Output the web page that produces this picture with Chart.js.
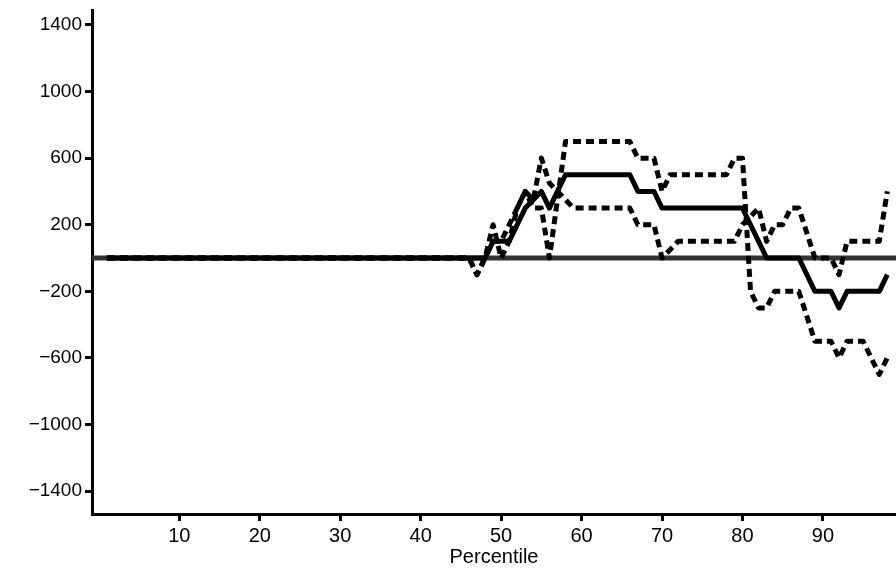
<!DOCTYPE html>
<html>
<head>
<meta charset="utf-8">
<script src="https://cdn.jsdelivr.net/npm/chart.js@4.4.1/dist/chart.umd.min.js"></script>
<style>
  html, body { margin: 0; padding: 0; background: #fff; }
  #wrap { width: 896px; height: 573px; }
</style>
</head>
<body>
<div id="wrap"><canvas id="chart" width="896" height="573"></canvas></div>
<script>
// percentile positions (x) and the three estimates
const percentiles = [
  1, 2, 3, 4, 5, 6, 7, 8, 9, 10, 11, 12, 13, 14, 15, 16, 17, 18, 19, 20,
  21, 22, 23, 24, 25, 26, 27, 28, 29, 30, 31, 32, 33, 34, 35, 36, 37, 38, 39, 40,
  41, 42, 43, 44, 45, 46, 47, 48, 49, 50, 51, 52, 53, 54, 55, 56, 57, 58, 59, 60,
  61, 62, 63, 64, 65, 66, 67, 68, 69, 70, 71, 72, 73, 74, 75, 76, 77, 78, 79, 80,
  81, 82, 83, 84, 85, 86, 87, 88, 89, 90, 91, 92, 93, 94, 95, 96, 97, 98
];

const median = [
  0, 0, 0, 0, 0, 0, 0, 0, 0, 0, 0, 0, 0, 0, 0, 0, 0, 0, 0, 0,
  0, 0, 0, 0, 0, 0, 0, 0, 0, 0, 0, 0, 0, 0, 0, 0, 0, 0, 0, 0,
  0, 0, 0, 0, 0, 0, 0, 0, 100, 100, 100, 200, 300, 350, 400, 300, 400, 500, 500, 500,
  500, 500, 500, 500, 500, 500, 400, 400, 400, 300, 300, 300, 300, 300, 300, 300, 300, 300, 300, 300,
  200, 100, 0, 0, 0, 0, 0, -100, -200, -200, -200, -300, -200, -200, -200, -200, -200, -100
];

const bandA = [
  0, 0, 0, 0, 0, 0, 0, 0, 0, 0, 0, 0, 0, 0, 0, 0, 0, 0, 0, 0,
  0, 0, 0, 0, 0, 0, 0, 0, 0, 0, 0, 0, 0, 0, 0, 0, 0, 0, 0, 0,
  0, 0, 0, 0, 0, 0, -100, 0, 200, 0, 100, 300, 400, 300, 300, 0, 350, 700, 700, 700,
  700, 700, 700, 700, 700, 700, 600, 600, 600, 400, 500, 500, 500, 500, 500, 500, 500, 500, 600, 600,
  -200, -300, -300, -200, -200, -200, -200, -350, -500, -500, -500, -600, -500, -500, -500, -600, -700, -600
];

const bandB = [
  0, 0, 0, 0, 0, 0, 0, 0, 0, 0, 0, 0, 0, 0, 0, 0, 0, 0, 0, 0,
  0, 0, 0, 0, 0, 0, 0, 0, 0, 0, 0, 0, 0, 0, 0, 0, 0, 0, 0, 0,
  0, 0, 0, 0, 0, 0, -100, 0, 100, 100, 200, 300, 400, 350, 600, 450, 400, 350, 300, 300,
  300, 300, 300, 300, 300, 300, 200, 200, 200, 0, 50, 100, 100, 100, 100, 100, 100, 100, 100, 200,
  250, 300, 100, 200, 200, 300, 300, 150, 0, 0, 0, -100, 100, 100, 100, 100, 100, 400
];

// horizontal reference at zero, across the whole axis
const zeroLineX = [-0.85, 99.1];
const zeroLineY = [0, 0];

const xTicks = [10, 20, 30, 40, 50, 60, 70, 80, 90];
const yTicks = [-1400, -1000, -600, -200, 200, 600, 1000, 1400];
const xLimits = [-0.85, 99.08];
const yLimits = [-1538, 1490];

const narrowFont = '"Liberation Sans Narrow", "Liberation Sans", Arial, sans-serif';
const plainFont = '"Liberation Sans", Arial, sans-serif';

const toPoints = (xs, ys) => xs.map((x, i) => ({ x: x, y: ys[i] }));
const minus = v => (v < 0 ? '\u2212' + Math.abs(v) : String(v));

const lineStyle = {
  pointRadius: 0,
  tension: 0,
  borderWidth: 5,
  borderColor: '#000',
  borderCapStyle: 'butt',
  borderJoinStyle: 'round',
  fill: false
};

function draw() {
  new Chart(document.getElementById('chart').getContext('2d'), {
    type: 'line',
    data: {
      datasets: [
        Object.assign({}, lineStyle, { label: 'median', data: toPoints(percentiles, median), order: 1 }),
        Object.assign({}, lineStyle, { label: 'upper', data: toPoints(percentiles, bandA), borderDash: [8, 5], order: 2 }),
        Object.assign({}, lineStyle, { label: 'lower', data: toPoints(percentiles, bandB), borderDash: [8, 5], order: 3 }),
        Object.assign({}, lineStyle, { label: 'zero', data: toPoints(zeroLineX, zeroLineY), borderColor: '#333', order: 10 })
      ]
    },
    options: {
      responsive: false,
      animation: false,
      devicePixelRatio: 1,
      layout: { padding: { top: 10, right: 0, bottom: 0, left: 0 } },
      plugins: { legend: { display: false }, tooltip: { enabled: false } },
      scales: {
        x: {
          type: 'linear',
          min: xLimits[0],
          max: xLimits[1],
          afterBuildTicks: s => { s.ticks = xTicks.map(v => ({ value: v })); },
          afterFit: s => { s.height = 59; s.paddingLeft = 0; s.paddingRight = 0; },
          ticks: {
            color: '#000',
            autoSkip: false,
            maxRotation: 0,
            padding: 3,
            font: { family: narrowFont, size: 20 }
          },
          grid: { display: true, drawOnChartArea: false, drawTicks: true, tickLength: 7, tickWidth: 3, tickColor: '#000' },
          border: { display: true, width: 3, color: '#000' },
          title: {
            display: true,
            text: 'Percentile',
            color: '#000',
            padding: { top: 0, bottom: 4 },
            font: { family: narrowFont, size: 20 }
          }
        },
        y: {
          type: 'linear',
          min: yLimits[0],
          max: yLimits[1],
          afterBuildTicks: s => { s.ticks = yTicks.map(v => ({ value: v })); },
          afterFit: s => { s.width = 92; s.paddingTop = 0; s.paddingBottom = 0; },
          ticks: {
            color: '#000',
            padding: 3,
            callback: v => minus(v),
            font: { family: plainFont, size: 19 }
          },
          grid: { display: true, drawOnChartArea: false, drawTicks: true, tickLength: 7, tickWidth: 3, tickColor: '#000' },
          border: { display: true, width: 3, color: '#000' }
        }
      }
    }
  });
}

Promise.all([
  document.fonts.load('20px "Liberation Sans Narrow"'),
  document.fonts.load('19px "Liberation Sans"')
]).catch(() => null).then(draw);
</script>
</body>
</html>
